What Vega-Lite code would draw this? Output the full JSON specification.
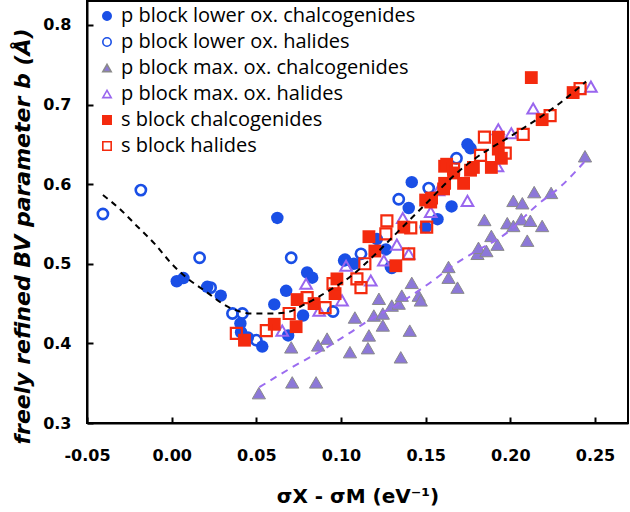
{
  "$schema": "https://vega.github.io/schema/vega-lite/v6.json",
  "width": 541,
  "height": 422,
  "autosize": "none",
  "padding": {"left": 87, "top": 1, "right": 2, "bottom": 89},
  "background": "white",
  "config": {
    "view": {"stroke": "black", "strokeWidth": 2},
    "axis": {
      "grid": false,
      "domainColor": "black",
      "domainWidth": 2,
      "tickColor": "black",
      "tickWidth": 2,
      "tickSize": -6,
      "labelFont": "DejaVu Sans",
      "labelFontWeight": "bold",
      "labelFontSize": 16,
      "labelColor": "black",
      "labelFlush": false,
      "titleFont": "DejaVu Sans",
      "titleFontWeight": "bold",
      "titleColor": "black"
    }
  },
  "datasets": {
    "pts": [
      {"x": 0.003, "y": 0.478, "s": "p block lower ox. chalcogenides"},
      {"x": 0.007, "y": 0.482, "s": "p block lower ox. chalcogenides"},
      {"x": 0.021, "y": 0.471, "s": "p block lower ox. chalcogenides"},
      {"x": 0.029, "y": 0.46, "s": "p block lower ox. chalcogenides"},
      {"x": 0.0406, "y": 0.425, "s": "p block lower ox. chalcogenides"},
      {"x": 0.041, "y": 0.414, "s": "p block lower ox. chalcogenides"},
      {"x": 0.045, "y": 0.4075, "s": "p block lower ox. chalcogenides"},
      {"x": 0.0535, "y": 0.396, "s": "p block lower ox. chalcogenides"},
      {"x": 0.0624, "y": 0.5575, "s": "p block lower ox. chalcogenides"},
      {"x": 0.0606, "y": 0.449, "s": "p block lower ox. chalcogenides"},
      {"x": 0.0676, "y": 0.466, "s": "p block lower ox. chalcogenides"},
      {"x": 0.0688, "y": 0.41, "s": "p block lower ox. chalcogenides"},
      {"x": 0.08, "y": 0.489, "s": "p block lower ox. chalcogenides"},
      {"x": 0.083, "y": 0.4825, "s": "p block lower ox. chalcogenides"},
      {"x": 0.0776, "y": 0.435, "s": "p block lower ox. chalcogenides"},
      {"x": 0.1018, "y": 0.504, "s": "p block lower ox. chalcogenides"},
      {"x": 0.1076, "y": 0.5, "s": "p block lower ox. chalcogenides"},
      {"x": 0.1212, "y": 0.531, "s": "p block lower ox. chalcogenides"},
      {"x": 0.1265, "y": 0.518, "s": "p block lower ox. chalcogenides"},
      {"x": 0.1294, "y": 0.496, "s": "p block lower ox. chalcogenides"},
      {"x": 0.14, "y": 0.57, "s": "p block lower ox. chalcogenides"},
      {"x": 0.1418, "y": 0.6025, "s": "p block lower ox. chalcogenides"},
      {"x": 0.15, "y": 0.546, "s": "p block lower ox. chalcogenides"},
      {"x": 0.157, "y": 0.556, "s": "p block lower ox. chalcogenides"},
      {"x": 0.1653, "y": 0.572, "s": "p block lower ox. chalcogenides"},
      {"x": 0.1747, "y": 0.65, "s": "p block lower ox. chalcogenides"},
      {"x": 0.1765, "y": 0.645, "s": "p block lower ox. chalcogenides"},
      {"x": -0.0406, "y": 0.5625, "s": "p block lower ox. halides"},
      {"x": -0.0182, "y": 0.5925, "s": "p block lower ox. halides"},
      {"x": 0.0165, "y": 0.5075, "s": "p block lower ox. halides"},
      {"x": 0.023, "y": 0.47, "s": "p block lower ox. halides"},
      {"x": 0.0359, "y": 0.4375, "s": "p block lower ox. halides"},
      {"x": 0.0418, "y": 0.4375, "s": "p block lower ox. halides"},
      {"x": 0.05, "y": 0.404, "s": "p block lower ox. halides"},
      {"x": 0.0706, "y": 0.5075, "s": "p block lower ox. halides"},
      {"x": 0.0953, "y": 0.44, "s": "p block lower ox. halides"},
      {"x": 0.1024, "y": 0.505, "s": "p block lower ox. halides"},
      {"x": 0.1118, "y": 0.5125, "s": "p block lower ox. halides"},
      {"x": 0.13, "y": 0.495, "s": "p block lower ox. halides"},
      {"x": 0.1341, "y": 0.581, "s": "p block lower ox. halides"},
      {"x": 0.1518, "y": 0.595, "s": "p block lower ox. halides"},
      {"x": 0.1682, "y": 0.6325, "s": "p block lower ox. halides"},
      {"x": 0.0515, "y": 0.3375, "s": "p block max. ox. chalcogenides"},
      {"x": 0.0706, "y": 0.395, "s": "p block max. ox. chalcogenides"},
      {"x": 0.0712, "y": 0.351, "s": "p block max. ox. chalcogenides"},
      {"x": 0.0853, "y": 0.351, "s": "p block max. ox. chalcogenides"},
      {"x": 0.0865, "y": 0.3975, "s": "p block max. ox. chalcogenides"},
      {"x": 0.0918, "y": 0.406, "s": "p block max. ox. chalcogenides"},
      {"x": 0.1053, "y": 0.389, "s": "p block max. ox. chalcogenides"},
      {"x": 0.1082, "y": 0.4325, "s": "p block max. ox. chalcogenides"},
      {"x": 0.1159, "y": 0.394, "s": "p block max. ox. chalcogenides"},
      {"x": 0.1165, "y": 0.41, "s": "p block max. ox. chalcogenides"},
      {"x": 0.1194, "y": 0.435, "s": "p block max. ox. chalcogenides"},
      {"x": 0.1224, "y": 0.456, "s": "p block max. ox. chalcogenides"},
      {"x": 0.1247, "y": 0.4225, "s": "p block max. ox. chalcogenides"},
      {"x": 0.1247, "y": 0.4375, "s": "p block max. ox. chalcogenides"},
      {"x": 0.13, "y": 0.4475, "s": "p block max. ox. chalcogenides"},
      {"x": 0.1341, "y": 0.45, "s": "p block max. ox. chalcogenides"},
      {"x": 0.1353, "y": 0.3825, "s": "p block max. ox. chalcogenides"},
      {"x": 0.1359, "y": 0.46, "s": "p block max. ox. chalcogenides"},
      {"x": 0.1406, "y": 0.416, "s": "p block max. ox. chalcogenides"},
      {"x": 0.1418, "y": 0.476, "s": "p block max. ox. chalcogenides"},
      {"x": 0.1459, "y": 0.46, "s": "p block max. ox. chalcogenides"},
      {"x": 0.1471, "y": 0.454, "s": "p block max. ox. chalcogenides"},
      {"x": 0.1635, "y": 0.496, "s": "p block max. ox. chalcogenides"},
      {"x": 0.1635, "y": 0.4825, "s": "p block max. ox. chalcogenides"},
      {"x": 0.1688, "y": 0.47, "s": "p block max. ox. chalcogenides"},
      {"x": 0.1806, "y": 0.5125, "s": "p block max. ox. chalcogenides"},
      {"x": 0.1812, "y": 0.52, "s": "p block max. ox. chalcogenides"},
      {"x": 0.1859, "y": 0.516, "s": "p block max. ox. chalcogenides"},
      {"x": 0.1847, "y": 0.555, "s": "p block max. ox. chalcogenides"},
      {"x": 0.1888, "y": 0.535, "s": "p block max. ox. chalcogenides"},
      {"x": 0.1924, "y": 0.524, "s": "p block max. ox. chalcogenides"},
      {"x": 0.1982, "y": 0.551, "s": "p block max. ox. chalcogenides"},
      {"x": 0.2018, "y": 0.5475, "s": "p block max. ox. chalcogenides"},
      {"x": 0.2065, "y": 0.556, "s": "p block max. ox. chalcogenides"},
      {"x": 0.2118, "y": 0.554, "s": "p block max. ox. chalcogenides"},
      {"x": 0.2188, "y": 0.5475, "s": "p block max. ox. chalcogenides"},
      {"x": 0.21, "y": 0.529, "s": "p block max. ox. chalcogenides"},
      {"x": 0.2018, "y": 0.579, "s": "p block max. ox. chalcogenides"},
      {"x": 0.2071, "y": 0.576, "s": "p block max. ox. chalcogenides"},
      {"x": 0.2141, "y": 0.59, "s": "p block max. ox. chalcogenides"},
      {"x": 0.2241, "y": 0.589, "s": "p block max. ox. chalcogenides"},
      {"x": 0.2441, "y": 0.635, "s": "p block max. ox. chalcogenides"},
      {"x": 0.0653, "y": 0.416, "s": "p block max. ox. halides"},
      {"x": 0.0794, "y": 0.475, "s": "p block max. ox. halides"},
      {"x": 0.0871, "y": 0.441, "s": "p block max. ox. halides"},
      {"x": 0.1006, "y": 0.454, "s": "p block max. ox. halides"},
      {"x": 0.103, "y": 0.4975, "s": "p block max. ox. halides"},
      {"x": 0.1176, "y": 0.479, "s": "p block max. ox. halides"},
      {"x": 0.1253, "y": 0.504, "s": "p block max. ox. halides"},
      {"x": 0.133, "y": 0.524, "s": "p block max. ox. halides"},
      {"x": 0.1365, "y": 0.5575, "s": "p block max. ox. halides"},
      {"x": 0.14, "y": 0.5125, "s": "p block max. ox. halides"},
      {"x": 0.153, "y": 0.565, "s": "p block max. ox. halides"},
      {"x": 0.1576, "y": 0.5925, "s": "p block max. ox. halides"},
      {"x": 0.1747, "y": 0.579, "s": "p block max. ox. halides"},
      {"x": 0.1924, "y": 0.6225, "s": "p block max. ox. halides"},
      {"x": 0.1929, "y": 0.669, "s": "p block max. ox. halides"},
      {"x": 0.2006, "y": 0.664, "s": "p block max. ox. halides"},
      {"x": 0.2135, "y": 0.695, "s": "p block max. ox. halides"},
      {"x": 0.2476, "y": 0.7225, "s": "p block max. ox. halides"},
      {"x": 0.043, "y": 0.404, "s": "s block chalcogenides"},
      {"x": 0.0606, "y": 0.424, "s": "s block chalcogenides"},
      {"x": 0.0735, "y": 0.421, "s": "s block chalcogenides"},
      {"x": 0.0741, "y": 0.455, "s": "s block chalcogenides"},
      {"x": 0.0841, "y": 0.45, "s": "s block chalcogenides"},
      {"x": 0.0965, "y": 0.4625, "s": "s block chalcogenides"},
      {"x": 0.0976, "y": 0.481, "s": "s block chalcogenides"},
      {"x": 0.1165, "y": 0.534, "s": "s block chalcogenides"},
      {"x": 0.12, "y": 0.516, "s": "s block chalcogenides"},
      {"x": 0.1324, "y": 0.4975, "s": "s block chalcogenides"},
      {"x": 0.1371, "y": 0.546, "s": "s block chalcogenides"},
      {"x": 0.15, "y": 0.58, "s": "s block chalcogenides"},
      {"x": 0.153, "y": 0.5775, "s": "s block chalcogenides"},
      {"x": 0.1535, "y": 0.5825, "s": "s block chalcogenides"},
      {"x": 0.1606, "y": 0.594, "s": "s block chalcogenides"},
      {"x": 0.1612, "y": 0.601, "s": "s block chalcogenides"},
      {"x": 0.1612, "y": 0.6225, "s": "s block chalcogenides"},
      {"x": 0.1624, "y": 0.625, "s": "s block chalcogenides"},
      {"x": 0.1665, "y": 0.614, "s": "s block chalcogenides"},
      {"x": 0.1724, "y": 0.601, "s": "s block chalcogenides"},
      {"x": 0.1765, "y": 0.6175, "s": "s block chalcogenides"},
      {"x": 0.1782, "y": 0.621, "s": "s block chalcogenides"},
      {"x": 0.1888, "y": 0.621, "s": "s block chalcogenides"},
      {"x": 0.1929, "y": 0.644, "s": "s block chalcogenides"},
      {"x": 0.1929, "y": 0.659, "s": "s block chalcogenides"},
      {"x": 0.1947, "y": 0.6325, "s": "s block chalcogenides"},
      {"x": 0.2124, "y": 0.7338, "s": "s block chalcogenides"},
      {"x": 0.2188, "y": 0.681, "s": "s block chalcogenides"},
      {"x": 0.2371, "y": 0.715, "s": "s block chalcogenides"},
      {"x": 0.0382, "y": 0.4125, "s": "s block halides"},
      {"x": 0.0559, "y": 0.416, "s": "s block halides"},
      {"x": 0.0694, "y": 0.4375, "s": "s block halides"},
      {"x": 0.08, "y": 0.4575, "s": "s block halides"},
      {"x": 0.0906, "y": 0.445, "s": "s block halides"},
      {"x": 0.0953, "y": 0.475, "s": "s block halides"},
      {"x": 0.1094, "y": 0.481, "s": "s block halides"},
      {"x": 0.1118, "y": 0.47, "s": "s block halides"},
      {"x": 0.1141, "y": 0.5, "s": "s block halides"},
      {"x": 0.1265, "y": 0.5375, "s": "s block halides"},
      {"x": 0.1271, "y": 0.5538, "s": "s block halides"},
      {"x": 0.14, "y": 0.5125, "s": "s block halides"},
      {"x": 0.1412, "y": 0.545, "s": "s block halides"},
      {"x": 0.1506, "y": 0.546, "s": "s block halides"},
      {"x": 0.1665, "y": 0.619, "s": "s block halides"},
      {"x": 0.1824, "y": 0.636, "s": "s block halides"},
      {"x": 0.1847, "y": 0.659, "s": "s block halides"},
      {"x": 0.197, "y": 0.639, "s": "s block halides"},
      {"x": 0.2076, "y": 0.6625, "s": "s block halides"},
      {"x": 0.2235, "y": 0.686, "s": "s block halides"},
      {"x": 0.2412, "y": 0.72, "s": "s block halides"}
    ],
    "blackLine": [
      {"x": -0.0406, "y": 0.5863},
      {"x": -0.0306, "y": 0.5688},
      {"x": -0.0206, "y": 0.5475},
      {"x": -0.01, "y": 0.525},
      {"x": 0.0, "y": 0.5},
      {"x": 0.0088, "y": 0.4825},
      {"x": 0.0194, "y": 0.4663},
      {"x": 0.0341, "y": 0.445},
      {"x": 0.0476, "y": 0.4375},
      {"x": 0.0576, "y": 0.4375},
      {"x": 0.0676, "y": 0.4388},
      {"x": 0.0794, "y": 0.45},
      {"x": 0.0929, "y": 0.4663},
      {"x": 0.1047, "y": 0.4825},
      {"x": 0.1206, "y": 0.5125},
      {"x": 0.1341, "y": 0.5413},
      {"x": 0.15, "y": 0.575},
      {"x": 0.1676, "y": 0.6125},
      {"x": 0.1794, "y": 0.6325},
      {"x": 0.2029, "y": 0.6638},
      {"x": 0.2282, "y": 0.7},
      {"x": 0.2447, "y": 0.7288}
    ],
    "purpleLine": [
      {"x": 0.0518, "y": 0.345},
      {"x": 0.0712, "y": 0.37},
      {"x": 0.0888, "y": 0.3913},
      {"x": 0.1047, "y": 0.4125},
      {"x": 0.1182, "y": 0.4313},
      {"x": 0.1324, "y": 0.4475},
      {"x": 0.1459, "y": 0.4663},
      {"x": 0.1559, "y": 0.4813},
      {"x": 0.1635, "y": 0.4938},
      {"x": 0.1771, "y": 0.5125},
      {"x": 0.1971, "y": 0.5375},
      {"x": 0.2165, "y": 0.575},
      {"x": 0.23, "y": 0.5975},
      {"x": 0.2441, "y": 0.6288}
    ]
  },
  "encoding": {
    "x": {
      "field": "x", "type": "quantitative",
      "scale": {"domain": [-0.05, 0.2695], "nice": false, "zero": false},
      "axis": {"values": [-0.05, 0, 0.05, 0.1, 0.15, 0.2, 0.25], "format": ".2f", "labelExpr": "replace(datum.label, '−', '-')", "labelPadding": 30, "title": "σX - σM  (eV⁻¹)", "titleFontSize": 20, "titlePadding": 23}
    },
    "y": {
      "field": "y", "type": "quantitative",
      "scale": {"domain": [0.3, 0.83], "nice": false, "zero": false},
      "axis": {"values": [0.3, 0.4, 0.5, 0.6, 0.7, 0.8], "format": ".1f", "labelPadding": 22, "title": "freely refined BV parameter b  (Å)", "titleFontSize": 22, "titleFontStyle": "italic", "titlePadding": 8, "titleY": 235}
    }
  },
  "layer": [
    {
      "data": {"name": "pts"},
      "mark": {"type": "point", "filled": false, "opacity": 1},
      "encoding": {
        "shape": {
          "field": "s", "type": "nominal",
          "scale": {
            "domain": ["p block lower ox. chalcogenides", "p block lower ox. halides", "p block max. ox. chalcogenides", "p block max. ox. halides", "s block chalcogenides", "s block halides"],
            "range": ["circle", "circle", "triangle-up", "triangle-up", "square", "square"]
          },
          "legend": {"title": null, "orient": "none", "legendX": 10, "legendY": 5, "labelFont": "Open Sans", "labelFontSize": 20, "labelColor": "black", "symbolSize": 70, "symbolStrokeWidth": 1.6, "rowPadding": 6, "labelOffset": 4, "labelLimit": 400}
        },
        "fill": {
          "field": "s", "type": "nominal",
          "scale": {
            "domain": ["p block lower ox. chalcogenides", "p block lower ox. halides", "p block max. ox. chalcogenides", "p block max. ox. halides", "s block chalcogenides", "s block halides"],
            "range": ["#1a4fe6", "#ffffff00", "#8c78d8", "#ffffff00", "#f42a0e", "#ffffff00"]
          },
          "legend": {"title": null, "orient": "none", "legendX": 10, "legendY": 5, "labelFont": "Open Sans", "labelFontSize": 20, "labelColor": "black", "symbolSize": 70, "symbolStrokeWidth": 1.6, "rowPadding": 6, "labelOffset": 4, "labelLimit": 400}
        },
        "stroke": {
          "field": "s", "type": "nominal",
          "scale": {
            "domain": ["p block lower ox. chalcogenides", "p block lower ox. halides", "p block max. ox. chalcogenides", "p block max. ox. halides", "s block chalcogenides", "s block halides"],
            "range": ["#1a4fe6", "#1a4fe6", "#8a8a8a", "#9966ee", "#f42a0e", "#f42a0e"]
          },
          "legend": {"title": null, "orient": "none", "legendX": 10, "legendY": 5, "labelFont": "Open Sans", "labelFontSize": 20, "labelColor": "black", "symbolSize": 70, "symbolStrokeWidth": 1.6, "rowPadding": 6, "labelOffset": 4, "labelLimit": 400}
        },
        "size": {
          "condition": [
            {"test": "datum.s === 'p block lower ox. chalcogenides'", "value": 155},
            {"test": "datum.s === 'p block lower ox. halides'", "value": 105},
            {"test": "datum.s === 'p block max. ox. chalcogenides'", "value": 175},
            {"test": "datum.s === 'p block max. ox. halides'", "value": 135},
            {"test": "datum.s === 's block chalcogenides'", "value": 165}
          ],
          "value": 121
        },
        "strokeWidth": {
          "condition": [
            {"test": "datum.s === 'p block lower ox. chalcogenides'", "value": 0},
            {"test": "datum.s === 'p block lower ox. halides'", "value": 2.6},
            {"test": "datum.s === 'p block max. ox. chalcogenides'", "value": 1},
            {"test": "datum.s === 'p block max. ox. halides'", "value": 2},
            {"test": "datum.s === 's block chalcogenides'", "value": 0}
          ],
          "value": 2.2
        }
      }
    },
    {
      "data": {"name": "blackLine"},
      "mark": {"type": "line", "color": "black", "strokeWidth": 2, "strokeDash": [6, 5], "interpolate": "monotone"},
      "encoding": {}
    },
    {
      "data": {"name": "purpleLine"},
      "mark": {"type": "line", "color": "#9b6cf0", "strokeWidth": 2, "strokeDash": [7, 6], "interpolate": "monotone"},
      "encoding": {}
    }
  ]
}
